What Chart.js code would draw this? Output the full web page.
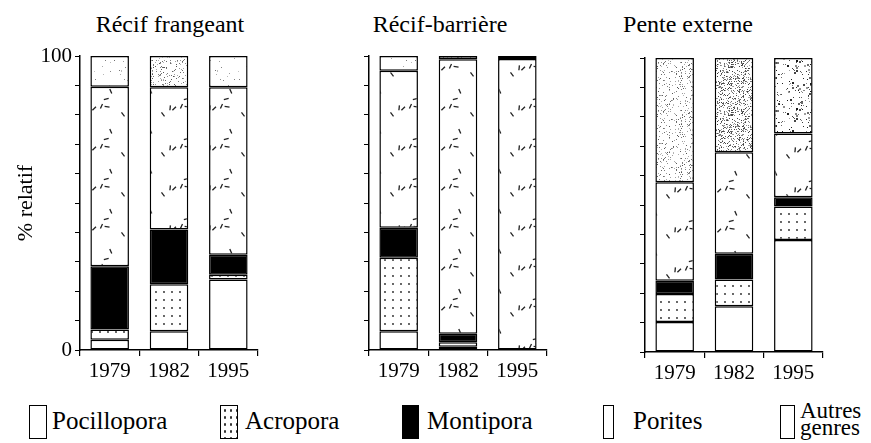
<!DOCTYPE html>
<html lang="fr">
<head>
<meta charset="utf-8">
<script src="https://cdn.jsdelivr.net/npm/chart.js@4"></script>
<style>
  body { margin: 0; background: #fff; font-family: "Liberation Serif", "Times New Roman", serif; color: #000; }
  #wrap { position: relative; width: 871px; height: 443px; overflow: hidden; }
  #wrap canvas { position: absolute; }
  .title { position: absolute; top: 11px; font-size: 24px; transform: translateX(-50%); white-space: nowrap; }
  .sw { position: absolute; top: 405px; height: 34px; border: 1.5px solid #000; box-sizing: border-box; background: #fff; }
  .lab { position: absolute; top: 407px; font-size: 25px; white-space: nowrap; }
</style>
</head>
<body>
<div id="wrap">
  <div class="title" style="left:170px">Récif frangeant</div>
  <div class="title" style="left:440px">Récif-barrière</div>
  <div class="title" style="left:688px">Pente externe</div>

  <canvas id="c1" width="268" height="395" style="left:0;top:0"></canvas>
  <canvas id="c2" width="208" height="395" style="left:349px;top:0"></canvas>
  <canvas id="c3" width="208" height="395" style="left:625px;top:2px"></canvas>

  <div class="sw" style="left:29px;width:18px"></div>
  <div class="lab" style="left:52px">Pocillopora</div>
  <div class="sw" style="left:220px;width:18px;background-image:radial-gradient(#333 0.9px, transparent 1.3px);background-size:6px 7px;background-position:1px 1px"></div>
  <div class="lab" style="left:245px">Acropora</div>
  <div class="sw" style="left:402px;width:17px;background:#000"></div>
  <div class="lab" style="left:427px">Montipora</div>
  <div class="sw" style="left:603px;width:11px"></div>
  <div class="lab" style="left:633px">Porites</div>
  <div class="sw" style="left:780px;width:15px"></div>
  <div class="lab" style="left:800px;top:402px;font-size:23px;line-height:17px">Autres<br>genres</div>
</div>

<script>
const years = ["1979", "1982", "1995"];
const genera = ["Pocillopora", "Acropora", "Montipora", "Porites", "Autres genres"];
const yLabels = [0, 100];

// % relatif, une valeur par année
const frangeantPocillopora = [3.5, 6.4, 24];
const frangeantAcropora = [3.5, 16, 1.6];
const frangeantMontipora = [21.5, 18.6, 6.8];
const frangeantPorites = [61, 48.4, 57];
const frangeantAutres = [10.5, 10.6, 10.6];

const barrierePocillopora = [6.4, 1.1, 0];
const barriereAcropora = [25, 1.5, 0];
const barriereMontipora = [10.2, 2.9, 0];
const barrierePorites = [53.4, 93.4, 99];
const barriereAutres = [5, 1.1, 1];

const externePocillopora = [10.2, 15.6, 38.1];
const externeAcropora = [9.5, 9.1, 11.4];
const externeMontipora = [4.5, 8.7, 3.1];
const externePorites = [33.5, 34.5, 21.7];
const externeAutres = [42.3, 32.1, 25.7];

// --- textures ---
function rng(seed) {
    return function () {
        seed = (seed * 16807) % 2147483647;
        return (seed - 1) / 2147483646;
    };
}

function tile(size, draw) {
    const c = document.createElement("canvas");
    c.width = size; c.height = size;
    const ctx = c.getContext("2d");
    ctx.fillStyle = "#fff";
    ctx.fillRect(0, 0, size, size);
    draw(ctx);
    return ctx.createPattern(c, "repeat");
}

const dots = tile(8, function (ctx) {
    ctx.fillStyle = "#222";
    ctx.beginPath();
    ctx.arc(4, 4, 0.9, 0, Math.PI * 2);
    ctx.fill();
});

const dashes = tile(40, function (ctx) {
    const r = rng(7);
    ctx.strokeStyle = "#222";
    ctx.lineWidth = 1.3;
    for (let i = 0; i < 7; i++) {
        const x = 3 + r() * 34, y = 3 + r() * 34, a = r() * Math.PI;
        ctx.beginPath();
        ctx.moveTo(x - 2.5 * Math.cos(a), y - 2.5 * Math.sin(a));
        ctx.lineTo(x + 2.5 * Math.cos(a), y + 2.5 * Math.sin(a));
        ctx.stroke();
    }
});

function stipple(n, lo, hi, seed, big) {
    return tile(48, function (ctx) {
        const r = rng(seed);
        for (let i = 0; i < n; i++) {
            const g = Math.round(lo + r() * (hi - lo));
            ctx.fillStyle = "rgb(" + g + "," + g + "," + g + ")";
            const s = big && r() < 0.25 ? 2 : 1;
            ctx.fillRect(Math.floor(r() * 48), Math.floor(r() * 48), s, s);
        }
    });
}

const light = stipple(40, 110, 200, 3);
const medium = stipple(260, 80, 190, 5);
const dark = stipple(650, 50, 170, 11);
const speckle = stipple(160, 20, 160, 13, true);

const fills = [["#fff", "#fff", "#fff"], [dots, dots, dots], ["#000", "#000", "#000"], [dashes, dashes, dashes]];
const autresFills = [[light, medium, light], [light, dark, dark], [medium, dark, speckle]];

Chart.defaults.font.family = '"Liberation Serif", "Times New Roman", serif';
Chart.defaults.color = "#000";

function makeChart(id, series, site, opts) {
    const datasets = series.map(function (values, i) {
        return {
            label: genera[i],
            data: values,
            backgroundColor: i < 4 ? fills[i] : autresFills[site],
            borderColor: "#000",
            borderWidth: 1.5,
            borderSkipped: false,
            barPercentage: 0.65,
            categoryPercentage: 1
        };
    });

    return new Chart(document.getElementById(id), {
        type: "bar",
        data: { labels: years, datasets: datasets },
        options: {
            responsive: false,
            animation: false,
            events: [],
            layout: { padding: { top: 56, right: 10, left: 0, bottom: 0 } },
            plugins: { legend: { display: false }, tooltip: { enabled: false } },
            scales: {
                x: {
                    stacked: true,
                    afterFit: function (s) { s.height = 45; },
                    grid: { drawOnChartArea: false, offset: true, tickLength: 6, color: "#000", lineWidth: 1.2 },
                    border: { color: "#000", width: 1.5 },
                    ticks: { font: { size: 21 }, padding: 3, maxRotation: 0 }
                },
                y: {
                    stacked: true,
                    min: 0,
                    max: 100,
                    afterFit: function (s) { s.width = opts.axisWidth; },
                    grid: { drawOnChartArea: false, tickLength: 5, color: "#000", lineWidth: 1 },
                    border: { color: "#000", width: 1.5 },
                    ticks: {
                        stepSize: 10,
                        padding: 3,
                        font: { size: 21 },
                        callback: function (v) { return opts.showLabels && yLabels.includes(v) ? v : ""; }
                    },
                    title: {
                        display: !!opts.title,
                        text: opts.title || "",
                        font: { size: 22 },
                        padding: { top: 13, bottom: 0 }
                    }
                }
            }
        }
    });
}

makeChart("c1", [frangeantPocillopora, frangeantAcropora, frangeantMontipora, frangeantPorites, frangeantAutres], 0,
    { axisWidth: 80, showLabels: true, title: "% relatif" });
makeChart("c2", [barrierePocillopora, barriereAcropora, barriereMontipora, barrierePorites, barriereAutres], 1,
    { axisWidth: 20, showLabels: false });
makeChart("c3", [externePocillopora, externeAcropora, externeMontipora, externePorites, externeAutres], 2,
    { axisWidth: 20, showLabels: false });
</script>
</body>
</html>
